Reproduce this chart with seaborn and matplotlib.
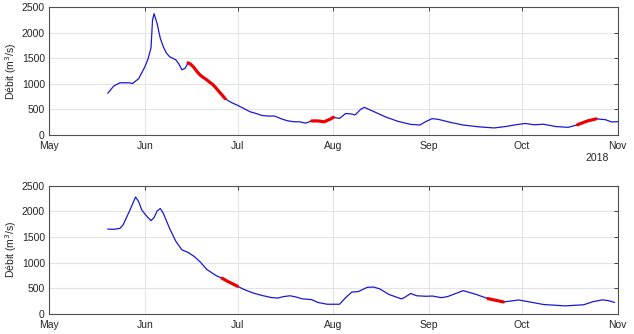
import matplotlib
matplotlib.use("Agg")
import matplotlib.pyplot as plt
import seaborn as sns
import pandas as pd

# ---- data ----
top_dates = ["2018-05-20", "2018-05-22", "2018-05-24", "2018-05-27", "2018-05-28", "2018-05-30",
             "2018-06-01", "2018-06-02", "2018-06-03", "2018-06-03 12:00", "2018-06-04", "2018-06-05",
             "2018-06-06", "2018-06-07", "2018-06-08", "2018-06-09", "2018-06-10", "2018-06-11",
             "2018-06-12", "2018-06-13", "2018-06-14", "2018-06-15", "2018-06-16", "2018-06-17",
             "2018-06-18", "2018-06-19", "2018-06-20", "2018-06-21", "2018-06-22", "2018-06-23",
             "2018-06-24", "2018-06-25", "2018-06-26", "2018-06-27", "2018-06-28", "2018-06-29",
             "2018-07-01", "2018-07-03", "2018-07-05", "2018-07-07", "2018-07-09", "2018-07-11",
             "2018-07-13", "2018-07-15", "2018-07-17", "2018-07-19", "2018-07-21", "2018-07-23",
             "2018-07-25", "2018-07-27", "2018-07-29", "2018-07-31", "2018-08-01", "2018-08-03",
             "2018-08-05", "2018-08-07", "2018-08-08", "2018-08-10", "2018-08-11", "2018-08-14",
             "2018-08-18", "2018-08-22", "2018-08-26", "2018-08-29", "2018-08-31", "2018-09-02",
             "2018-09-04", "2018-09-08", "2018-09-12", "2018-09-17", "2018-09-22", "2018-09-26",
             "2018-09-29", "2018-10-02", "2018-10-05", "2018-10-08", "2018-10-12", "2018-10-16",
             "2018-10-19", "2018-10-22", "2018-10-25", "2018-10-28", "2018-10-30", "2018-11-01"]
top_values = [815, 960, 1020, 1020, 1005, 1100,
              1330, 1480, 1700, 2250, 2370, 2170,
              1890, 1720, 1600, 1530, 1500, 1470,
              1390, 1275, 1300, 1410, 1375, 1310,
              1230, 1165, 1120, 1080, 1030, 985,
              920, 850, 780, 710, 670, 635,
              580, 520, 455, 420, 380, 370,
              370, 320, 280, 260, 258, 232,
              275, 275, 258, 310, 345, 325,
              420, 410, 390, 510, 540, 460,
              350, 265, 208, 195, 265, 320,
              305, 245, 195, 160, 138, 168,
              200, 225, 200, 210, 165, 150,
              200, 270, 315, 300, 255, 260]
top_red = [("2018-06-15", "2018-06-27"), ("2018-07-25", "2018-08-01"), ("2018-10-19", "2018-10-25")]

bot_dates = ["2018-05-20", "2018-05-22", "2018-05-24", "2018-05-25", "2018-05-27", "2018-05-29",
             "2018-05-30", "2018-05-31", "2018-06-01", "2018-06-02", "2018-06-03", "2018-06-04",
             "2018-06-05", "2018-06-06", "2018-06-07", "2018-06-09", "2018-06-11", "2018-06-13",
             "2018-06-15", "2018-06-17", "2018-06-19", "2018-06-21", "2018-06-24", "2018-06-26",
             "2018-06-28", "2018-07-01", "2018-07-03", "2018-07-06", "2018-07-09", "2018-07-12",
             "2018-07-14", "2018-07-16", "2018-07-18", "2018-07-20", "2018-07-22", "2018-07-25",
             "2018-07-27", "2018-07-30", "2018-08-03", "2018-08-05", "2018-08-07", "2018-08-09",
             "2018-08-12", "2018-08-14", "2018-08-16", "2018-08-19", "2018-08-23", "2018-08-24",
             "2018-08-26", "2018-08-28", "2018-08-31", "2018-09-02", "2018-09-05", "2018-09-07",
             "2018-09-12", "2018-09-16", "2018-09-20", "2018-09-25", "2018-09-27", "2018-09-30",
             "2018-10-03", "2018-10-08", "2018-10-15", "2018-10-21", "2018-10-24", "2018-10-27",
             "2018-10-29", "2018-10-31"]
bot_values = [1655, 1650, 1670, 1740, 2000, 2280,
              2190, 2030, 1950, 1880, 1820, 1880,
              2010, 2055, 1960, 1670, 1420, 1250,
              1200, 1120, 1010, 870, 750, 696,
              630, 540, 480, 410, 360, 320,
              310, 340, 355, 330, 295, 280,
              225, 190, 190, 320, 428, 435,
              520, 525, 490, 380, 295, 320,
              400, 355, 345, 350, 318, 340,
              455, 385, 300, 235, 250, 273,
              240, 185, 158, 180, 240, 275,
              260, 225]
bot_red = [("2018-06-26", "2018-07-01"), ("2018-09-20", "2018-09-25")]

month_ticks = ["2018-05-01", "2018-06-01", "2018-07-01", "2018-08-01", "2018-09-01", "2018-10-01", "2018-11-01"]
month_labels = ["May", "Jun", "Jul", "Aug", "Sep", "Oct", "Nov"]
y_ticks = [0, 500, 1000, 1500, 2000, 2500]

sns.set_style("white")
plt.rcParams['font.family'] = ['Liberation Sans', 'DejaVu Sans']

fig = plt.figure(figsize=(6.34, 3.34), dpi=100)
ax1 = fig.add_axes([0.0773, 0.5958, 0.897, 0.3832])
ax2 = fig.add_axes([0.0773, 0.0599, 0.897, 0.3841])

def draw(ax, dates, values, reds, show_year):
    df = pd.DataFrame({"date": pd.to_datetime(dates, format="mixed"), "q": values})
    sns.lineplot(data=df, x="date", y="q", ax=ax, color="#1818d8", linewidth=0.9)
    for a, b in reds:
        seg = df[(df.date >= pd.Timestamp(a)) & (df.date <= pd.Timestamp(b))]
        sns.lineplot(data=seg, x="date", y="q", ax=ax, color="#ee0000", linewidth=2.3)
    ax.set_xlim(pd.Timestamp(month_ticks[0]), pd.Timestamp(month_ticks[-1]))
    ax.set_ylim(0, 2500)
    ax.set_xticks(pd.to_datetime(month_ticks))
    ax.set_xticklabels(month_labels)
    ax.set_yticks(y_ticks)
    ax.grid(True, color="#e4e4e4", linewidth=0.8)
    ax.set_axisbelow(True)
    for s in ax.spines.values():
        s.set_color("#505050")
        s.set_linewidth(0.8)
    ax.tick_params(axis="both", direction="in", length=3, width=0.7, color="#404040",
                   labelsize=7.5, labelcolor="#262626", top=True, right=True)
    ax.tick_params(axis="x", pad=4)
    ax.tick_params(axis="y", pad=3)
    ax.set_xlabel("")
    ax.set_ylabel("Débit (m$^3$/s)", fontsize=7.5, color="#262626", labelpad=2)
    if show_year:
        ax.text(0.963, -0.18, "2018", transform=ax.transAxes, ha="center", va="center",
                fontsize=7.5, color="#262626")

draw(ax1, top_dates, top_values, top_red, True)
draw(ax2, bot_dates, bot_values, bot_red, False)

fig.savefig("out.png", dpi=100)
